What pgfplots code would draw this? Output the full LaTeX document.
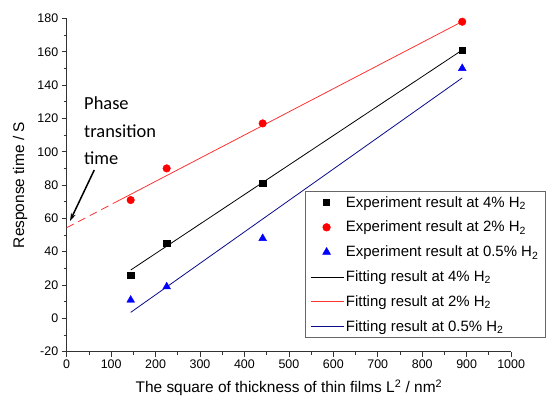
\documentclass[border=0pt]{standalone}
\usepackage{fontspec}
\setmainfont{Liberation Sans}
\newfontfamily\calib{Carlito}
\usepackage{pgfplots}
\pgfplotsset{compat=1.18}
\usetikzlibrary{arrows.meta}
\definecolor{fitred}{RGB}{255,50,50}
\definecolor{fitblue}{RGB}{10,10,140}
\pgfplotsset{
  markleg/.style={legend image code/.code={\draw[##1] plot coordinates {(16bp,0bp)};}},
  lineleg/.style={legend image code/.code={\draw[##1] (0bp,0bp) -- (33bp,0bp);}},
}
\begin{document}
\begin{tikzpicture}
\begin{axis}[
 scale only axis, width=444.4bp, height=333.3bp,
 xmin=0, xmax=1000, ymin=-20, ymax=180,
 clip=false,
 axis x line*=bottom, axis y line*=left,
 xtick={0,100,...,1000}, ytick={-20,0,...,180},
 minor x tick num=1, minor y tick num=1,
 tick align=outside,
 major tick length=5bp, minor tick length=3bp,
 every tick/.style={black!80, line width=0.8bp},
 axis line style={black!80, line width=0.8bp},
 tick label style={font=\fontsize{12.5}{14}\selectfont},
 /pgf/number format/assume math mode=true,
 /pgf/number format/1000 sep={},
 xlabel={The square of thickness of thin films L\textsuperscript{2} / nm\textsuperscript{2}},
 ylabel={Response time / S},
 label style={font=\fontsize{15.5}{18}\selectfont},
 xlabel style={at={(axis description cs:0.5,-0.109)}, anchor=center},
 ylabel style={at={(axis description cs:-0.105,0.5)}, anchor=center},
 legend style={at={(0.536,0.482)}, anchor=north west, draw=black!60, line width=0.6bp,
   font=\fontsize{15}{18}\selectfont, cells={anchor=west}, row sep=8.5bp, inner xsep=5bp, inner ysep=3bp},
]
\addplot[only marks, mark=square*, mark size=3.2bp, black, markleg]
  coordinates {(144,26)(225,45)(441,81)(890,161)};
\addlegendentry{Experiment result at 4\% H\textsubscript{2}}
\addplot[only marks, mark=*, mark size=3.8bp, red, markleg]
  coordinates {(144,71)(225,90)(441,117)(890,178)};
\addlegendentry{Experiment result at 2\% H\textsubscript{2}}
\addplot[only marks, mark=triangle*, mark size=4.5bp, blue, markleg]
  coordinates {(144,11)(225,19)(441,48)(890,150)};
\addlegendentry{Experiment result at 0.5\% H\textsubscript{2}}
\addplot[black, line width=0.8bp, no marks, lineleg]
  coordinates {(144,29)(890,161)};
\addlegendentry{Fitting result at 4\% H\textsubscript{2}}
\addplot[fitred, line width=0.8bp, no marks, lineleg]
  coordinates {(120,71.1)(890,178.1)};
\addlegendentry{Fitting result at 2\% H\textsubscript{2}}
\addplot[fitblue, line width=0.8bp, no marks, lineleg]
  coordinates {(144,3.6)(890,144.3)};
\addlegendentry{Fitting result at 0.5\% H\textsubscript{2}}
\addplot[fitred, line width=0.8bp, no marks, dash pattern=on 8bp off 5bp, forget plot]
  coordinates {(0,54.4)(120,71.1)};
\node[anchor=north west, align=left, font=\calib\fontsize{18.5}{27.5}\selectfont, inner sep=0pt] at (axis cs:39,133) {Phase\\transition\\time};
\draw[-{Stealth[length=8bp,width=5bp]}, line width=1.5bp] (axis cs:62,89) -- (axis cs:7.4,58.4);
\end{axis}
\pgfresetboundingbox
\path ([shift={(-66.7bp,-49.3bp)}]current axis.south west) rectangle ++(553bp,401bp);
\end{tikzpicture}
\end{document}
